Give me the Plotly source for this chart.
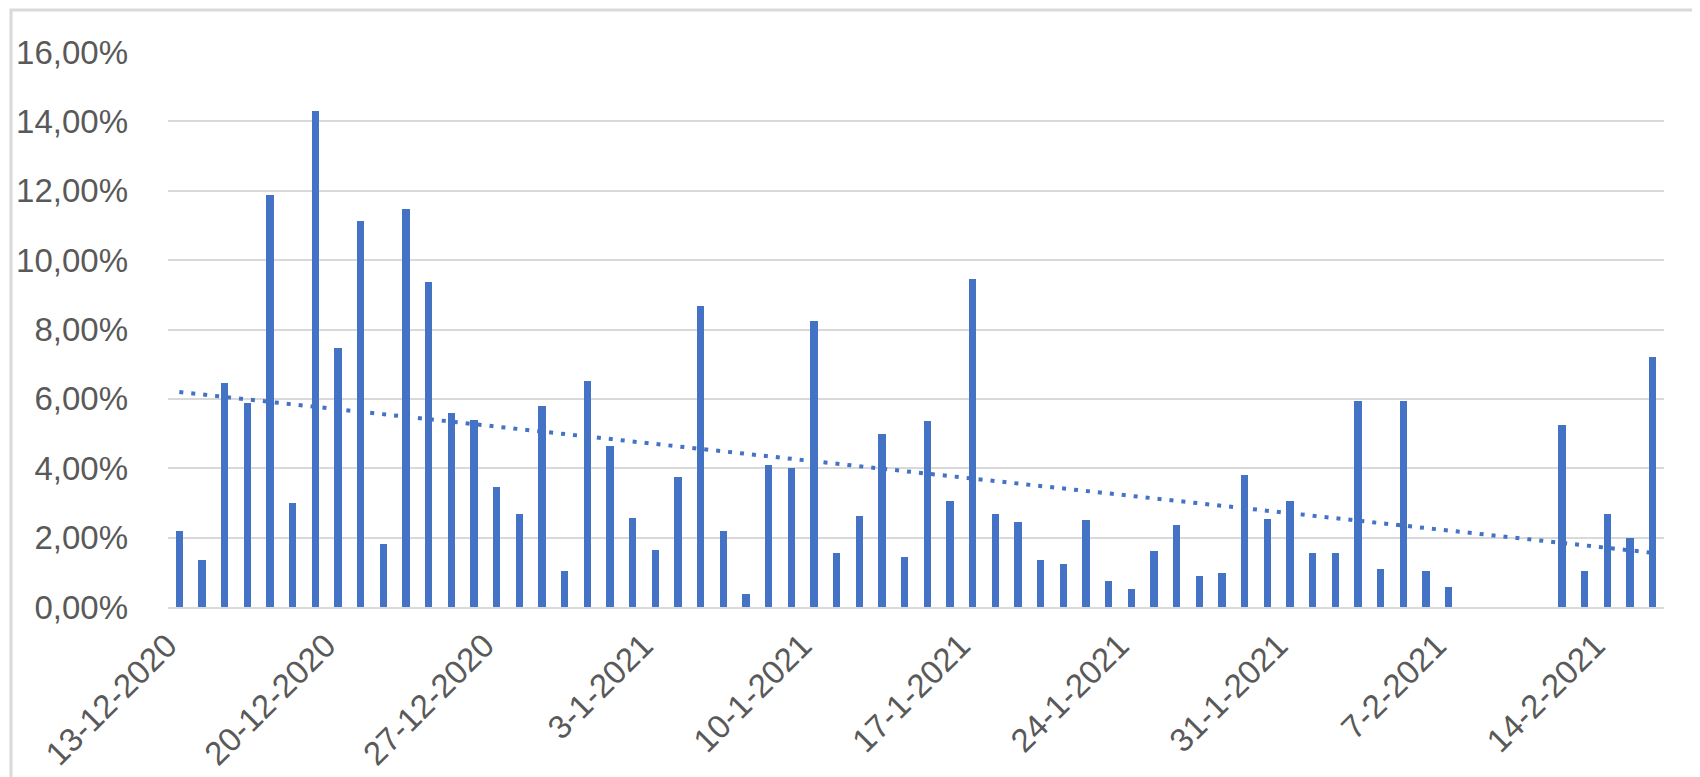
import datetime as dt
import numpy as np
import plotly.graph_objects as go

# ---- data (daily percentages) ----
start_date = "2020-12-13"
values_pct = [
    2.18, 1.35, 6.45, 5.88, 11.87, 3.00, 14.30, 7.48, 11.13, 1.81,
    11.47, 9.36, 5.58, 5.40, 3.45, 2.69, 5.79, 1.04, 6.51, 4.63,
    2.58, 1.63, 3.75, 8.68, 2.18, 0.38, 4.09, 4.00, 8.24, 1.55,
    2.61, 4.99, 1.44, 5.35, 3.06, 9.45, 2.69, 2.46, 1.35, 1.23,
    2.52, 0.76, 0.52, 1.62, 2.35, 0.90, 0.98, 3.80, 2.54, 3.06,
    1.55, 1.55, 5.94, 1.09, 5.94, 1.04, 0.58, None, None, None,
    None, 5.26, 1.04, 2.69, 1.98, 7.22,
]
tick_dates = ["2020-12-13", "2020-12-20", "2020-12-27", "2021-01-03", "2021-01-10",
              "2021-01-17", "2021-01-24", "2021-01-31", "2021-02-07", "2021-02-14"]
tick_labels = ["13-12-2020", "20-12-2020", "27-12-2020", "3-1-2021", "10-1-2021",
               "17-1-2021", "24-1-2021", "31-1-2021", "7-2-2021", "14-2-2021"]
y_ticks = [0, 0.02, 0.04, 0.06, 0.08, 0.10, 0.12, 0.14, 0.16]

d0 = dt.date.fromisoformat(start_date)
dates = [d0 + dt.timedelta(days=i) for i in range(len(values_pct))]
yvals = [None if v is None else v / 100 for v in values_pct]

# linear trendline (least squares over non-blank days)
idx = np.array([i for i, v in enumerate(yvals) if v is not None], dtype=float)
yy = np.array([v for v in yvals if v is not None])
slope, intercept = np.polyfit(idx, yy, 1)
trend_x = [dates[0], dates[-1]]
trend_y = [intercept, intercept + slope * (len(dates) - 1)]

BLUE = "#4472C4"
GRID = "#D9D9D9"
TXT = "#595959"
FONT = "Liberation Sans"
FS = 33

W, H = 1700, 777
ML, MR, MT, MB = 160, 44, 44, 178

fig = go.Figure()
fig.add_trace(go.Bar(
    x=dates, y=yvals, marker_color=BLUE, marker_line_width=0,
    width=0.31 * 86400000, showlegend=False,
))
fig.add_trace(go.Scatter(
    x=trend_x, y=trend_y, mode="lines",
    line=dict(color=BLUE, width=4, dash="4px,8px"), showlegend=False,
))

xr0 = dt.datetime.combine(dates[0], dt.time()) - dt.timedelta(hours=12)
xr1 = dt.datetime.combine(dates[-1], dt.time()) + dt.timedelta(hours=12)

pw = W - ML - MR
ph = H - MT - MB
fig.add_shape(type="rect", xref="paper", yref="paper",
              x0=(3 - ML) / pw, x1=(W - 4 - ML) / pw,
              y0=-(MB - 4) / ph, y1=1 + (MT - 2) / ph,
              line=dict(color=GRID, width=3), layer="below")

fig.update_layout(
    width=W, height=H,
    margin=dict(l=ML, r=MR, t=MT, b=MB, pad=0, autoexpand=False),
    paper_bgcolor="white", plot_bgcolor="white",
    separators=",.",
    bargap=0,
    font=dict(family=FONT, color=TXT, size=FS),
    xaxis=dict(
        type="date", range=[xr0, xr1], automargin=False,
        tickvals=[dt.date.fromisoformat(t) for t in tick_dates], ticktext=tick_labels,
        tickangle=-45, showgrid=False, zeroline=False,
        showline=True, linecolor=GRID, linewidth=2,
        ticks="", ticklabelstandoff=4, ticklabelshift=-12,
        tickfont=dict(family=FONT, size=FS, color=TXT),
    ),
    yaxis=dict(
        range=[0, 0.16], tickvals=y_ticks, tickformat=".2%", automargin=False,
        showgrid=True, gridcolor=GRID, gridwidth=2,
        zeroline=False, showline=False, ticks="",
        ticklabelstandoff=39,
        tickfont=dict(family=FONT, size=FS, color=TXT),
    ),
)

fig.write_html("out.html")
